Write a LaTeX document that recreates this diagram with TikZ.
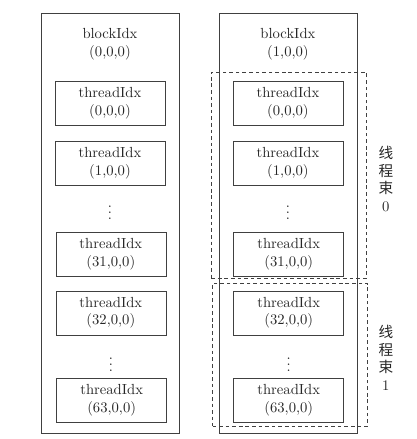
\documentclass[tikz,border=0pt]{standalone}
\usepackage{fontspec}
\newfontfamily\cjk{Noto Sans CJK SC}
\usetikzlibrary{positioning}

\begin{document}
\begin{tikzpicture}[
    blockbox/.style={rectangle, draw=black!75, minimum width=3.31cm, minimum height=10.06cm},
    thread/.style={rectangle, draw=black!75, minimum width=2.64cm, minimum height=1.06cm, align=center, inner sep=0pt, text=black!85},
    warpbox/.style={rectangle, draw=black!75, dash pattern=on 2.5pt off 2pt, minimum width=3.72cm},
    warplabel/.style={align=center, text=black!85}
]
\useasboundingbox (0,0) rectangle (10.008,-10.536);
% two blocks
\node[blockbox] (blk0) at (2.64,-5.36) {};
\node[blockbox] (blk1) at (6.91,-5.36) {};
\node[align=center, text=black!85] (bidx0) at (2.64,-1.06) {blockIdx\\(0,0,0)};
\node[align=center, text=black!85] (bidx1) at (6.91,-1.06) {blockIdx\\(1,0,0)};
% warps in block 1
\node[warpbox, minimum height=4.94cm] (warp0) at (6.93,-4.20) {};
\node[warpbox, minimum height=3.43cm] (warp1) at (6.96,-8.51) {};
\node[warplabel] (lab0) at (9.26,-4.30) {{\cjk 线}\\{\cjk 程}\\{\cjk 束}\\0};
\node[warplabel] (lab1) at (9.26,-8.59) {{\cjk 线}\\{\cjk 程}\\{\cjk 束}\\1};
% threads of block 0
\node[thread] (a0) at (2.64,-2.48) {threadIdx\\(0,0,0)};
\node[thread] (a1) at (2.64,-3.92) {threadIdx\\(1,0,0)};
\node[text=black!85] (adots0) at (2.64,-5.00) {$\vdots$};
\node[thread] (a31) at (2.66,-6.10) {threadIdx\\(31,0,0)};
\node[thread] (a32) at (2.66,-7.51) {threadIdx\\(32,0,0)};
\node[text=black!85] (adots1) at (2.66,-8.64) {$\vdots$};
\node[thread] (a63) at (2.68,-9.61) {threadIdx\\(63,0,0)};
% threads of block 1
\node[thread] (b0) at (6.91,-2.48) {threadIdx\\(0,0,0)};
\node[thread] (b1) at (6.91,-3.92) {threadIdx\\(1,0,0)};
\node[text=black!85] (bdots0) at (6.91,-5.00) {$\vdots$};
\node[thread] (b31) at (6.93,-6.10) {threadIdx\\(31,0,0)};
\node[thread] (b32) at (6.93,-7.51) {threadIdx\\(32,0,0)};
\node[text=black!85] (bdots1) at (6.93,-8.64) {$\vdots$};
\node[thread] (b63) at (6.93,-9.61) {threadIdx\\(63,0,0)};
\end{tikzpicture}
\end{document}
